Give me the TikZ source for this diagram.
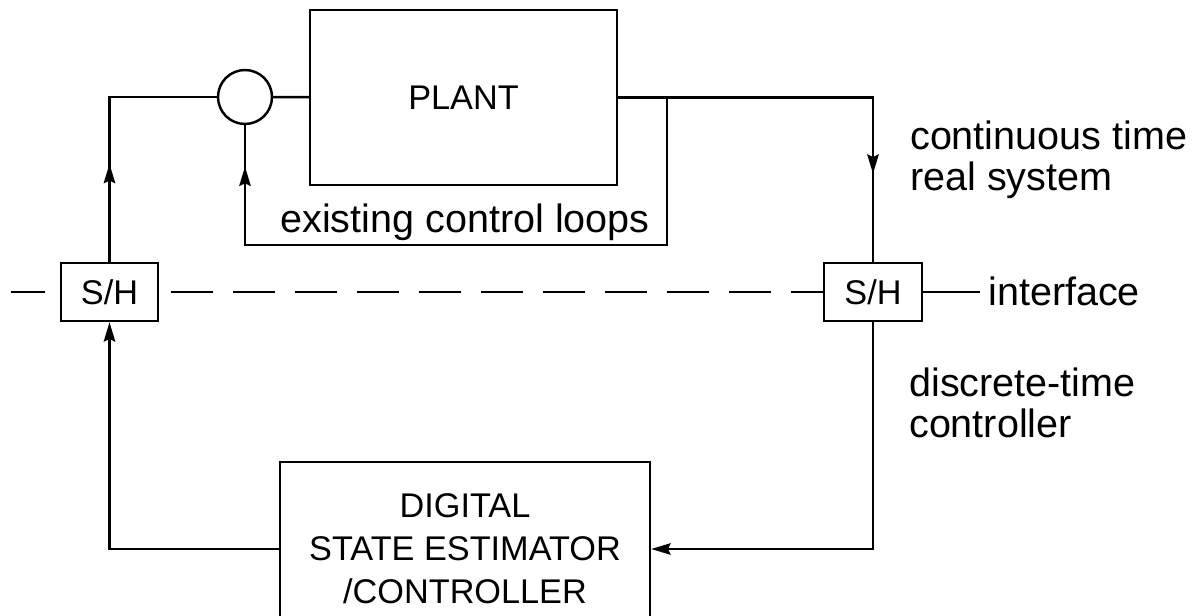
\documentclass[tikz,border=0pt]{standalone}
\usepackage{fontspec}
\setmainfont{Liberation Sans}
\usetikzlibrary{arrows.meta,decorations.markings}

\begin{document}
\begin{tikzpicture}[
    x=0.02cm, y=-0.02cm,
    line width=1.4pt,
    box/.style={draw, inner sep=0pt, align=center, font=\fontsize{19.5}{24.5}\selectfont},
    note/.style={inner sep=0pt, align=left, font=\fontsize{22.5}{23}\selectfont},
    link/.style={-{Stealth[length=11pt, width=6.5pt, inset=1.5pt]}},
    midarrow/.style={postaction={decorate}, decoration={markings, mark=at position #1 with {\arrow{Stealth[length=11pt, width=6.5pt, inset=1.5pt]}}}},
    iface/.style={dash pattern=on 0.84cm off 0.4cm, dash phase=1cm}
]
\useasboundingbox (0,0) rectangle (1202,615);
\clip (0,0) rectangle (1202,615);

\node[box, minimum width=6.14cm, minimum height=3.5cm] (plant) at (463.5,97.5) {PLANT};
\node[draw, circle, minimum size=1.08cm, inner sep=0pt] (sum) at (245,97) {};
\node[box, minimum width=1.94cm, minimum height=1.16cm] (shL) at (109.5,292) {S/H};
\node[box, minimum width=1.96cm, minimum height=1.16cm] (shR) at (873,292) {S/H};
\node[box, minimum width=7.4cm, minimum height=3.48cm] (digital) at (465,549) {DIGITAL\\STATE ESTIMATOR\\/CONTROLLER};

\node[note, anchor=base] (loops) at (465,232) {existing control loops};
\node[note, anchor=base west] (ctlabel) at (909,190) {continuous time\\real system};
\node[note, anchor=base west] (dtlabel) at (908,437) {discrete-time\\controller};
\node[note, anchor=base west, inner xsep=4pt] (ifacelabel) at (980,305) {interface};

\coordinate (tap) at (667,97);
\coordinate (loopcorner) at (667,245);
\coordinate (ifstart) at (11,292);

\draw (sum) -- (plant);
\draw[midarrow=0.36] (shL.north) |- (sum.west);
\draw[midarrow=0.79] (plant.east) -| (shR.north);
\draw[midarrow=0.94] (tap) -- (loopcorner) -| (sum.south);
\draw[link] (digital.west) -| (shL.south);
\draw[link] (shR.south) |- (digital.east);
\draw[dash pattern=on 0.68cm off 0.4cm] (ifstart) -- (shL.west);
\draw[iface] (shL.east) -- (shR.west);
\draw (shR.east) -- (shR.east -| ifacelabel.west);
\end{tikzpicture}
\end{document}
